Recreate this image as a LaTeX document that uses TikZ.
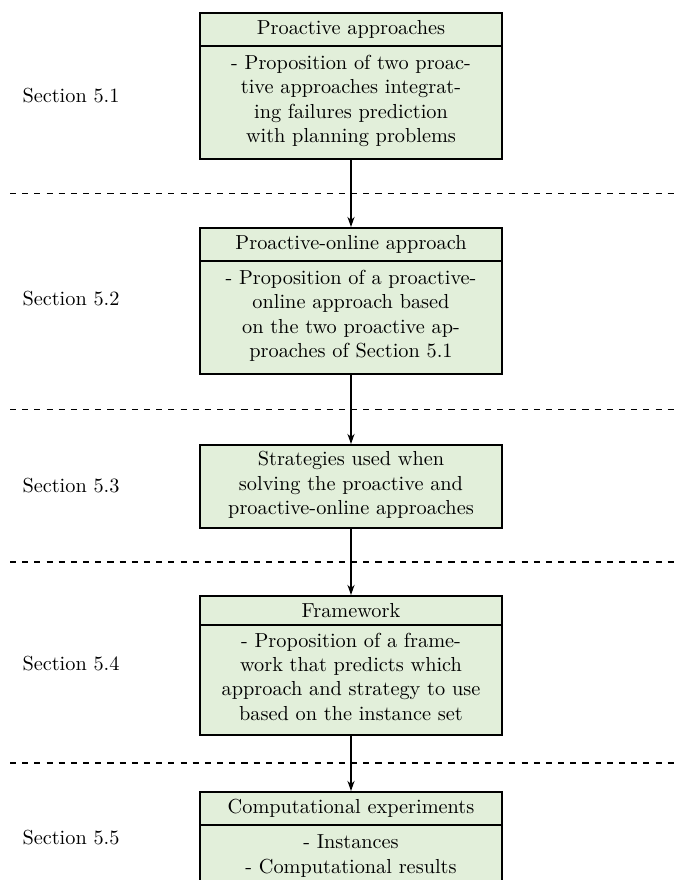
\documentclass[tikz,border=0pt]{standalone}
\usetikzlibrary{shapes.multipart,arrows.meta,calc}
\definecolor{boxgreen}{RGB}{226,239,218}
% invisible struts giving the box bodies a little more room
\newcommand\padtop{\rule{0pt}{7.9pt}}
\newcommand\padbot{\rule[-4.4pt]{0pt}{0pt}}
\newcommand\padbotsmall{\rule[-3.4pt]{0pt}{0pt}}
\begin{document}
\begin{tikzpicture}[x=0.4926pt,y=-0.4926pt,
  secbox/.style={draw, thick, fill=boxgreen, text width=5cm, align=center,
    rectangle split, rectangle split parts=2, anchor=north},
  plainbox/.style={draw, thick, fill=boxgreen, text width=5cm, align=center, anchor=north},
  seclabel/.style={anchor=center},
  sepline/.style={thick, dashed},
  flow/.style={thick, -{Stealth[length=5pt,width=3.5pt]}}]
\useasboundingbox (0,0) rectangle (676,880);

% the five stages of the chapter
\node[secbox] (p1) at (351,12) {Proactive approaches
  \nodepart{two}\padtop - Proposition of two proactive approaches integrating failures prediction with planning problems\padbot};
\node[secbox] (p2) at (351,227) {Proactive-online approach
  \nodepart{two}\padtop - Proposition of a proactive-online approach based on the two proactive approaches of Section 5.1\padbot};
\node[plainbox] (p3) at (351,444) {Strategies used when\\ solving the proactive and\\ proactive-online approaches\padbotsmall};
\node[secbox] (p4) at (351,595) {Framework
  \nodepart{two} - Proposition of a framework that predicts which approach and strategy to use based on the instance set\padbotsmall};
\node[secbox] (p5) at (351,791) {Computational experiments
  \nodepart{two}\padtop - Instances\\ - Computational results\padbot};

% section labels on the left
\node[seclabel] (s1) at (71,96) {Section 5.1};
\node[seclabel] (s2) at (71,299) {Section 5.2};
\node[seclabel] (s3) at (71,486) {Section 5.3};
\node[seclabel] (s4) at (71,664) {Section 5.4};
\node[seclabel] (s5) at (71,838) {Section 5.5};

% dashed separators halfway between consecutive boxes
\coordinate (L) at (10,0);
\coordinate (R) at (720,0);
\coordinate (m1) at ($(p1.south)!0.5!(p2.north)$);
\coordinate (m2) at ($(p2.south)!0.5!(p3.north)$);
\coordinate (m3) at ($(p3.south)!0.5!(p4.north)$);
\coordinate (m4) at ($(p4.south)!0.5!(p5.north)$);
\foreach \m in {m1,m2,m3,m4}
  \draw[sepline] (\m -| L) -- (\m -| R);

% flow between stages
\draw[flow] (p1.south) -- (p2.north);
\draw[flow] (p2.south) -- (p3.north);
\draw[flow] (p3.south) -- (p4.north);
\draw[flow] (p4.south) -- (p5.north);
\end{tikzpicture}
\end{document}
